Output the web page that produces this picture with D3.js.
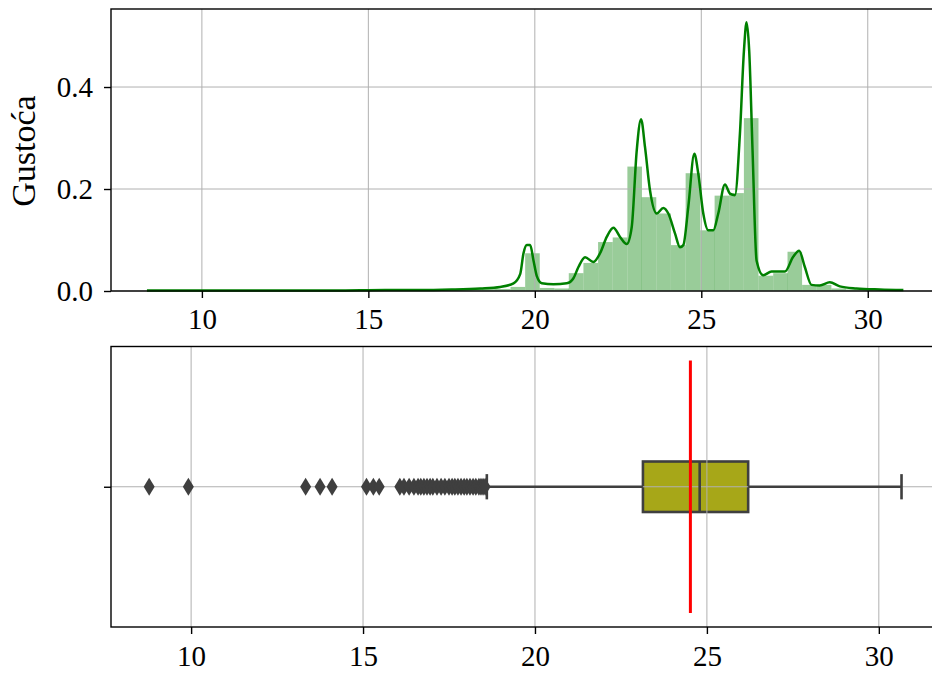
<!DOCTYPE html>
<html>
<head>
<meta charset="utf-8">
<script src="https://cdn.jsdelivr.net/npm/d3@7"></script>
<style>
  body { margin: 0; background: #fff; }
  svg { display: block; }
  text { font-family: "Liberation Serif", "Times New Roman", serif; fill: #000; }
</style>
</head>
<body>
<svg id="chart" width="932" height="675"></svg>
<script>
// Histogram bins (left edges, common width) and their densities
const binLefts = [8.76, 9.20, 9.64, 10.07, 10.51, 10.95, 11.39, 11.83, 12.26, 12.70,
  13.14, 13.58, 14.02, 14.45, 14.89, 15.33, 15.77, 16.21, 16.64, 17.08,
  17.52, 17.96, 18.40, 18.83, 19.27, 19.71, 20.15, 20.59, 21.02, 21.46,
  21.90, 22.34, 22.78, 23.21, 23.65, 24.09, 24.53, 24.97, 25.40, 25.84,
  26.28, 26.72, 27.16, 27.59, 28.03, 28.47, 28.91, 29.35, 29.78, 30.22];
const binWidth = 0.438;
const binDensity = [0.001, 0, 0.001, 0, 0, 0, 0, 0, 0, 0,
  0.001, 0.001, 0.001, 0, 0.001, 0.002, 0.002, 0.003, 0.003, 0.003,
  0.003, 0.004, 0.005, 0.004, 0.008, 0.074, 0.006, 0.005, 0.035, 0.055,
  0.096, 0.105, 0.244, 0.184, 0.152, 0.090, 0.231, 0.119, 0.187, 0.192,
  0.339, 0.030, 0.035, 0.077, 0.012, 0.012, 0.005, 0.003, 0.002, 0.002];

// Kernel density estimate curve
const kdeX = [8.35, 10.0, 12.0, 14.0, 15.5, 16.5, 17.5, 18.36, 18.96, 19.36, 19.56, 19.66, 19.76, 19.86,
  19.96, 20.06, 20.21, 20.56, 20.96, 21.16, 21.31, 21.51, 21.76, 21.96, 22.16,
  22.36, 22.56, 22.76, 22.91, 23.06, 23.19, 23.31, 23.46, 23.66, 23.86, 24.01,
  24.21, 24.36, 24.46, 24.61, 24.79, 24.91, 25.06, 25.21, 25.36, 25.51, 25.71,
  25.86, 26.01, 26.16, 26.28, 26.36, 26.44, 26.54, 26.66, 26.86, 27.11, 27.51,
  27.76, 27.94, 28.11, 28.31, 28.56, 28.86, 29.16, 29.66, 30.36, 31.07];
const kdeY = [0.001, 0.001, 0.001, 0.001, 0.002, 0.002, 0.003, 0.005, 0.008, 0.015, 0.033, 0.074, 0.090, 0.090,
  0.060, 0.029, 0.015, 0.013, 0.015, 0.025, 0.047, 0.066, 0.057, 0.074, 0.106,
  0.124, 0.106, 0.092, 0.125, 0.275, 0.337, 0.282, 0.197, 0.152, 0.163, 0.152,
  0.113, 0.086, 0.090, 0.165, 0.269, 0.230, 0.152, 0.119, 0.119, 0.152, 0.209,
  0.191, 0.188, 0.308, 0.470, 0.527, 0.470, 0.275, 0.060, 0.031, 0.038, 0.038,
  0.067, 0.079, 0.047, 0.012, 0.011, 0.017, 0.009, 0.005, 0.003, 0.002];

// Box plot summary
const boxQ1 = 23.14;
const boxMedian = 24.79;
const boxQ3 = 26.20;
const whiskerLow = 18.60;
const whiskerHigh = 30.66;
const meanValue = 24.52;
const outliers = [8.78, 9.92, 13.33, 13.75, 14.10, 15.10, 15.30, 15.47,
  16.07, 16.19, 16.34, 16.48, 16.60, 16.68, 16.77, 16.86, 16.95, 17.03, 17.15,
  17.27, 17.38, 17.50, 17.59, 17.67, 17.76, 17.85, 17.94, 18.02, 18.11, 18.20,
  18.28, 18.37, 18.43, 18.49, 18.55];

// Tick labels
const xTicks = [10, 15, 20, 25, 30];
const densityTicks = [0.0, 0.2, 0.4];
const densityTickLabels = ["0.0", "0.2", "0.4"];
const yLabel = "Gustoća";

const svg = d3.select("#chart");
const TICK_FONT = 29;
const GRID = "#b0b0b0";
const DARK = "#3f3f3f";

// ---------- upper panel: histogram + KDE ----------
const upper = { left: 111, right: 941, top: 9, bottom: 291 };
const xTop = d3.scaleLinear().domain([7.27, 32.2]).range([upper.left, upper.right]);
const yTop = d3.scaleLinear().domain([0, 0.553]).range([upper.bottom, upper.top]);

const gTop = svg.append("g");
const bins = binLefts.map((x0, i) => ({ x0, x1: x0 + binWidth, d: binDensity[i] }));
gTop.append("g").selectAll("rect").data(bins).join("rect")
  .attr("x", d => xTop(d.x0))
  .attr("width", d => xTop(d.x1) - xTop(d.x0))
  .attr("y", d => yTop(d.d))
  .attr("height", d => yTop(0) - yTop(d.d))
  .attr("fill", "green").attr("fill-opacity", 0.4);

// grid
gTop.append("g").selectAll("line").data(xTicks).join("line")
  .attr("x1", d => xTop(d)).attr("x2", d => xTop(d))
  .attr("y1", upper.top).attr("y2", upper.bottom)
  .attr("stroke", GRID).attr("stroke-width", 1);
gTop.append("g").selectAll("line").data(densityTicks).join("line")
  .attr("x1", upper.left).attr("x2", upper.right)
  .attr("y1", d => yTop(d)).attr("y2", d => yTop(d))
  .attr("stroke", GRID).attr("stroke-width", 1);

const kdePts = kdeX.map((x, i) => [x, kdeY[i]]);
gTop.append("path").datum(kdePts)
  .attr("d", d3.line().x(d => xTop(d[0])).y(d => yTop(d[1])).curve(d3.curveMonotoneX))
  .attr("fill", "none").attr("stroke", "green").attr("stroke-width", 2.5)
  .attr("stroke-linejoin", "round");

// spines
gTop.append("rect").attr("x", upper.left).attr("y", upper.top)
  .attr("width", upper.right - upper.left).attr("height", upper.bottom - upper.top)
  .attr("fill", "none").attr("stroke", "#000").attr("stroke-width", 1.4);

function styleAxis(g) {
  g.select(".domain").remove();
  g.selectAll(".tick line").attr("stroke", "#000").attr("stroke-width", 1.4);
  g.selectAll(".tick text").attr("font-size", TICK_FONT)
    .attr("font-family", "Liberation Serif, Times New Roman, serif").attr("fill", "#000");
}

gTop.append("g").attr("transform", `translate(0,${upper.bottom})`)
  .call(d3.axisBottom(xTop).tickValues(xTicks).tickSize(7).tickPadding(10).tickFormat(d3.format("d")))
  .call(styleAxis);
gTop.append("g").attr("transform", `translate(${upper.left},0)`)
  .call(d3.axisLeft(yTop).tickValues(densityTicks).tickSize(7).tickPadding(11)
    .tickFormat((d, i) => densityTickLabels[i]))
  .call(styleAxis);

svg.append("text")
  .attr("transform", `translate(35,${(upper.top + upper.bottom) / 2 + 1}) rotate(-90)`)
  .attr("text-anchor", "middle")
  .attr("font-size", 34)
  .text(yLabel);

// ---------- lower panel: box plot ----------
const lower = { left: 111, right: 939, top: 346.5, bottom: 627 };
const xBot = d3.scaleLinear().domain([7.67, 31.75]).range([lower.left, lower.right]);
const yBot = d3.scaleLinear().domain([-0.5, 0.5]).range([lower.bottom, lower.top]);
const gBot = svg.append("g");
const halfBox = 0.09, halfCap = 0.045;

// box patch
gBot.append("rect")
  .attr("x", xBot(boxQ1)).attr("width", xBot(boxQ3) - xBot(boxQ1))
  .attr("y", yBot(halfBox)).attr("height", yBot(-halfBox) - yBot(halfBox))
  .attr("fill", "#a7a718").attr("stroke", DARK).attr("stroke-width", 2.6);

// grid
gBot.append("g").selectAll("line").data(xTicks).join("line")
  .attr("x1", d => xBot(d)).attr("x2", d => xBot(d))
  .attr("y1", lower.top).attr("y2", lower.bottom)
  .attr("stroke", GRID).attr("stroke-width", 1);
gBot.append("line")
  .attr("x1", lower.left).attr("x2", lower.right)
  .attr("y1", yBot(0)).attr("y2", yBot(0))
  .attr("stroke", GRID).attr("stroke-width", 1);

// whiskers, caps, median
const lineAttrs = sel => sel.attr("stroke", DARK).attr("stroke-width", 2.6);
gBot.append("line").attr("x1", xBot(whiskerLow)).attr("x2", xBot(boxQ1))
  .attr("y1", yBot(0)).attr("y2", yBot(0)).call(lineAttrs);
gBot.append("line").attr("x1", xBot(boxQ3)).attr("x2", xBot(whiskerHigh))
  .attr("y1", yBot(0)).attr("y2", yBot(0)).call(lineAttrs);
[whiskerLow, whiskerHigh].forEach(v => {
  gBot.append("line").attr("x1", xBot(v)).attr("x2", xBot(v))
    .attr("y1", yBot(halfCap)).attr("y2", yBot(-halfCap)).call(lineAttrs);
});
gBot.append("line").attr("x1", xBot(boxMedian)).attr("x2", xBot(boxMedian))
  .attr("y1", yBot(halfBox)).attr("y2", yBot(-halfBox)).call(lineAttrs);

// outliers as thin diamonds
gBot.append("g").selectAll("path").data(outliers).join("path")
  .attr("transform", d => `translate(${xBot(d)},${yBot(0)})`)
  .attr("d", "M0,-9L5.5,0L0,9L-5.5,0Z")
  .attr("fill", DARK);

// mean marker
gBot.append("line")
  .attr("x1", xBot(meanValue)).attr("x2", xBot(meanValue))
  .attr("y1", yBot(0.45)).attr("y2", yBot(-0.45))
  .attr("stroke", "red").attr("stroke-width", 3);

gBot.append("rect").attr("x", lower.left).attr("y", lower.top)
  .attr("width", lower.right - lower.left).attr("height", lower.bottom - lower.top)
  .attr("fill", "none").attr("stroke", "#000").attr("stroke-width", 1.4);

gBot.append("g").attr("transform", `translate(0,${lower.bottom})`)
  .call(d3.axisBottom(xBot).tickValues(xTicks).tickSize(7).tickPadding(11).tickFormat(d3.format("d")))
  .call(styleAxis);
gBot.append("g").attr("transform", `translate(${lower.left},0)`)
  .call(d3.axisLeft(yBot).tickValues([0]).tickSize(7).tickFormat(""))
  .call(styleAxis);
</script>
</body>
</html>
